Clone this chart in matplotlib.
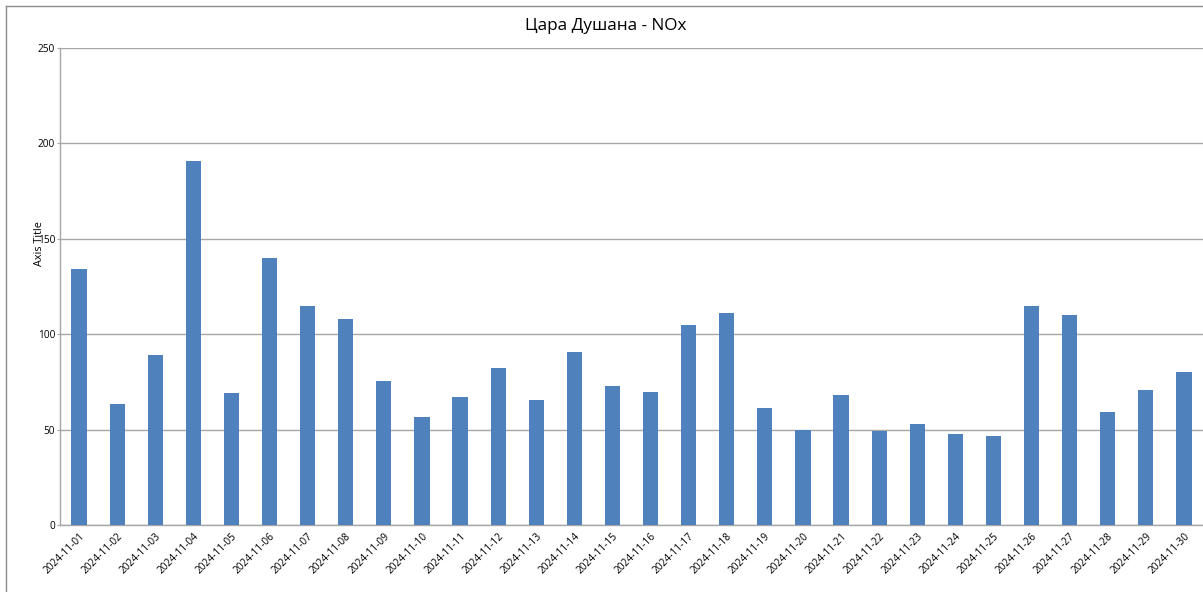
import matplotlib
matplotlib.use("Agg")
import matplotlib.pyplot as plt
from matplotlib.lines import Line2D

dates = ["2024-11-%02d" % d for d in range(1, 31)]
nox = [134, 63.5, 89, 191, 69, 140, 115, 108, 75.5, 56.5,
       67, 82.5, 65.5, 90.5, 73, 69.5, 105, 111, 61.5, 49.6,
       68, 49.3, 53, 47.8, 46.8, 115, 110, 59, 70.8, 80]
yticks = [0, 50, 100, 150, 200, 250]
title = "Цара Душана - NOx"
ylabel = "Axis Title"

W, H = 1203, 592
fig = plt.figure(figsize=(W / 100, H / 100), dpi=100)
fam = ["Open Sans", "DejaVu Sans"]

# chart border (left/top visible)
fig.add_artist(Line2D([5.5 / W, 5.5 / W], [0, 1 - 6 / H], transform=fig.transFigure, color="#8c8c8c", lw=1))
fig.add_artist(Line2D([5.5 / W, 1], [1 - 6 / H, 1 - 6 / H], transform=fig.transFigure, color="#8c8c8c", lw=1))

left, right = 60 / W, 1.0
bottom, top = 1 - 525 / H, 1 - 48 / H
ax = fig.add_axes([left, bottom, right - left, top - bottom])

x = list(range(len(dates)))
ax.bar(x, nox, width=0.4, color="#4F81BD", zorder=3)
ax.set_xlim(-0.5, len(dates) - 0.5)
ax.set_ylim(0, 250)
ax.set_yticks(yticks)
ax.set_yticklabels([str(v) for v in yticks], fontsize=7.3, family=fam)
ax.set_xticks(x)
ax.set_xticklabels(dates, rotation=45, ha="right", rotation_mode="anchor", fontsize=7.3, family=fam)
ax.grid(axis="y", color="#a6a6a6", lw=1, zorder=0)
for s in ["top", "right"]:
    ax.spines[s].set_visible(False)
for s in ["left", "bottom"]:
    ax.spines[s].set_color("#a6a6a6")
    ax.spines[s].set_linewidth(1)
ax.tick_params(axis="y", length=2, color="#a6a6a6", pad=1.5)
ax.tick_params(axis="x", length=0, pad=4)

fig.text(606 / W, 1 - 26 / H, title, ha="center", va="center", fontsize=12.3, family=fam)
fig.text(40 / W, 1 - 244 / H, ylabel, ha="center", va="center", rotation=90, fontsize=7.8, family=fam)

fig.savefig("out.png", dpi=100)
